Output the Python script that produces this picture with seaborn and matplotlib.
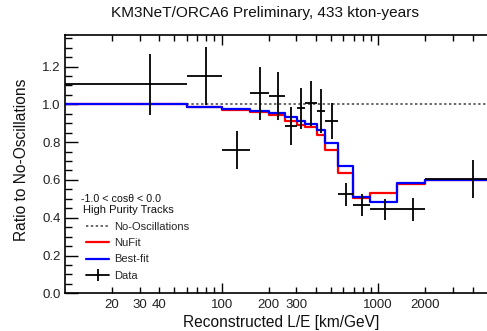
import numpy as np
import pandas as pd
import matplotlib.pyplot as plt
import matplotlib.ticker as mticker
from matplotlib.lines import Line2D
import seaborn as sns

# L/E bin edges [km/GeV]
bin_edges = [10, 60, 100, 152, 202, 254, 302, 341, 405, 457, 556, 693, 890, 1312, 2000, 6000]

# measured ratio to no-oscillations and its error
data_ratio = [1.106, 1.151, 0.758, 1.058, 1.044, 0.885, 0.979, 1.005, 0.966, 0.912,
              0.524, 0.467, 0.444, 0.444, 0.605]
data_err = [0.16, 0.155, 0.10, 0.14, 0.128, 0.10, 0.11, 0.12, 0.115, 0.093,
            0.06, 0.057, 0.055, 0.06, 0.10]

# model expectations per bin
nufit = [1.000, 0.984, 0.970, 0.958, 0.943, 0.913, 0.890, 0.880, 0.838, 0.758,
         0.638, 0.503, 0.529, 0.580, 0.600]
bestfit = [1.000, 0.987, 0.977, 0.966, 0.952, 0.931, 0.913, 0.896, 0.862, 0.798,
           0.675, 0.511, 0.481, 0.582, 0.600]
no_osc = [1.0] * 15

x_major = [100, 1000]
x_minor = [20, 30, 40, 50, 60, 70, 80, 90, 200, 300, 400, 500, 600, 700, 800, 900,
           2000, 3000, 4000]
x_minor_labelled = [20, 30, 40, 200, 300, 2000]

sns.set_theme(style="ticks")
plt.rcParams["font.family"] = ["Liberation Sans", "DejaVu Sans"]

fig = plt.figure(figsize=(4.87, 3.31), dpi=100)
ax = fig.add_axes([65 / 487, 1 - 293.3 / 331, 422 / 487, 258.3 / 331])
ax.set_xscale("log")


def steps(vals):
    return pd.DataFrame({"x": bin_edges, "y": list(vals) + [vals[-1]]})


sns.lineplot(data=steps(no_osc), x="x", y="y", ax=ax, color="#666666", lw=1.4,
             linestyle=(0, (1.2, 1.3)), drawstyle="steps-post", estimator=None, sort=False)
h_noosc = ax.lines[-1]
sns.lineplot(data=steps(nufit), x="x", y="y", ax=ax, color="#ff0000", lw=1.6,
             drawstyle="steps-post", estimator=None, sort=False)
h_nufit = ax.lines[-1]
sns.lineplot(data=steps(bestfit), x="x", y="y", ax=ax, color="#0000ff", lw=1.6,
             drawstyle="steps-post", estimator=None, sort=False)
h_best = ax.lines[-1]

edges = np.array(bin_edges, dtype=float)
centers = (edges[:-1] + edges[1:]) / 2
xerr = [centers - edges[:-1], edges[1:] - centers]
ax.errorbar(centers, data_ratio, xerr=xerr, yerr=data_err, fmt="none",
            ecolor="black", elinewidth=1.3, capsize=0, zorder=5)
h_data = Line2D([], [], color="black", lw=1.3, marker="|", markersize=9,
                markeredgewidth=1.3)

ax.set_xlim(10, 4950)
ax.set_ylim(0, 1.367)

ax.xaxis.set_major_locator(mticker.FixedLocator(x_major))
ax.xaxis.set_major_formatter(mticker.FixedFormatter([str(v) for v in x_major]))
ax.xaxis.set_minor_locator(mticker.FixedLocator(x_minor))
ax.xaxis.set_minor_formatter(mticker.FuncFormatter(
    lambda v, p: f"{v:.0f}" if round(v) in x_minor_labelled else ""))
ax.yaxis.set_major_locator(mticker.MultipleLocator(0.2))
ax.yaxis.set_minor_locator(mticker.MultipleLocator(0.05))
ax.yaxis.set_major_formatter(mticker.FormatStrFormatter("%.1f"))

ax.tick_params(which="both", direction="in", top=True, right=False, width=1,
               color="black", labelsize=9.5, labelcolor="#222222")
ax.tick_params(axis="x", which="major", length=7, pad=4)
ax.tick_params(axis="x", which="minor", length=4, pad=4)
ax.tick_params(axis="y", which="major", length=9, pad=3)
ax.tick_params(axis="y", which="minor", length=5)

for side in ["left", "bottom", "top"]:
    ax.spines[side].set_color("black")
    ax.spines[side].set_linewidth(1.2)
ax.spines["right"].set_visible(False)

ax.set_xlabel("Reconstructed L/E [km/GeV]", fontsize=11.2, color="#111111")
ax.xaxis.label.set_va("center")
ax.xaxis.set_label_coords(0.512, -0.114)
ax.set_ylabel("Ratio to No-Oscillations", fontsize=11.2, color="#111111")
ax.yaxis.label.set_va("center")
ax.yaxis.set_label_coords(-0.104, 0.516)

fig.text(265 / 487, 1 - 13 / 331, "KM3NeT/ORCA6 Preliminary, 433 kton-years",
         ha="center", va="center", fontsize=11.1, color="#111111")

ax.text(0.037, 0.367, "-1.0 < cosθ < 0.0", transform=ax.transAxes,
        ha="left", va="center", fontsize=7.7, color="#111111")
ax.text(0.043, 0.322, "High Purity Tracks", transform=ax.transAxes,
        ha="left", va="center", fontsize=8, color="#111111")

ax.legend([h_noosc, h_nufit, h_best, h_data],
          ["No-Oscillations", "NuFit", "Best-fit", "Data"],
          loc="upper left", bbox_to_anchor=(0.05, 0.277), frameon=False,
          fontsize=8, borderpad=0, borderaxespad=0, handlelength=2.1,
          handletextpad=0.45, labelspacing=0.57)

fig.savefig("out.png", dpi=100)
